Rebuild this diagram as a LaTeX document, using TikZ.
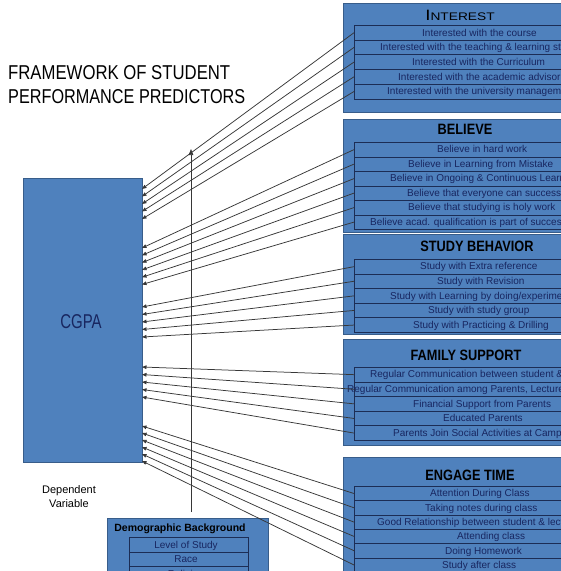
\documentclass[tikz,border=0pt]{standalone}
\usepackage{fontspec}
\setmainfont{Liberation Sans}
\usetikzlibrary{arrows.meta,calc}
\definecolor{boxblue}{RGB}{79,129,189}
\definecolor{boxedge}{RGB}{56,93,138}
\definecolor{rowline}{RGB}{28,45,85}
\definecolor{navy}{RGB}{24,38,96}
\definecolor{conncol}{RGB}{55,55,55}
\begin{document}
\begin{tikzpicture}[x=1pt,y=-1pt,
  bigbox/.style={draw=boxedge, fill=boxblue, line width=0.8pt, anchor=north west, inner sep=0pt},
  cell/.style={draw=rowline, fill=boxblue, line width=0.7pt, anchor=north west, inner sep=0pt, minimum width=300pt},
  rowtext/.style={anchor=base west, inner sep=0pt, text=navy, font=\fontsize{10}{10}\selectfont},
  grouptitle/.style={inner sep=0pt, text=black, font=\bfseries\fontsize{15}{15}\selectfont},
  conn/.style={draw=conncol, line width=0.75pt, -{Triangle[length=4.5pt,width=3.6pt]}},
  plain/.style={inner sep=0pt, text=black}]
\useasboundingbox (0,0) rectangle (561,571);
\clip (0,0) rectangle (561,571);

% title
\node[plain, anchor=south west] (title1) at (8,79.5) {\resizebox{222pt}{14pt}{FRAMEWORK OF STUDENT}};
\node[plain, anchor=south west] (title2) at (8,104) {\resizebox{237pt}{14pt}{PERFORMANCE PREDICTORS}};

% dependent variable
\node[bigbox, draw=boxedge, minimum width=119pt, minimum height=284pt] (cgpa) at (23,178) {};
\node[plain, text=navy] (cgpat) at (81,322) {\scalebox{0.75}[1]{\fontsize{20}{20}\selectfont CGPA}};
\node[plain, align=center, font=\fontsize{11}{14}\selectfont] (dep) at (69,497) {Dependent\\Variable};

% group boxes
\node[bigbox, minimum width=300pt, minimum height=109pt] (interest) at (343,3) {};
\node[bigbox, minimum width=300pt, minimum height=113pt] (believe) at (343,119) {};
\node[bigbox, minimum width=300pt, minimum height=100pt] (study) at (343,234) {};
\node[bigbox, minimum width=300pt, minimum height=106pt] (family) at (343,339) {};
\node[bigbox, minimum width=300pt, minimum height=140pt] (engage) at (343,457) {};

\node[plain] (interestt) at (460,15.5) {\scalebox{1.25}[1]{{\fontsize{15}{15}\selectfont I}{\fontsize{11}{11}\selectfont NTEREST}}};
\node[grouptitle] (believet) at (465,129.5) {\scalebox{0.85}[1]{BELIEVE}};
\node[grouptitle] (studyt) at (477,246) {\scalebox{0.85}[1]{STUDY BEHAVIOR}};
\node[grouptitle] (familyt) at (466,355) {\scalebox{0.85}[1]{FAMILY SUPPORT}};
\node[grouptitle] (engaget) at (470,475) {\scalebox{0.85}[1]{ENGAGE TIME}};

% rows
\foreach \t/\sx [count=\k] in {{Interested with the course}/422,
  {Interested with the teaching \& learning style}/380,
  {Interested with the Curriculum}/412,
  {Interested with the academic advisor}/398,
  {Interested with the university management}/387}{
  \node[cell, minimum height=14.7pt] (i\k) at (354,{25+14.7*(\k-1)}) {};
  \node[rowtext] (it\k) at (\sx,{25+14.7*(\k-1)+11}) {\t};
}
\foreach \t/\sx [count=\k] in {{Believe in hard work}/437,
  {Believe in Learning from Mistake}/408,
  {Believe in Ongoing \& Continuous Learning}/390,
  {Believe that everyone can success}/407,
  {Believe that studying is holy work}/408,
  {Believe acad. qualification is part of success}/370}{
  \node[cell, minimum height=14.5pt] (b\k) at (354,{142+14.5*(\k-1)}) {};
  \node[rowtext] (bt\k) at (\sx,{142+14.5*(\k-1)+10.9}) {\t};
}
\foreach \t/\sx [count=\k] in {{Study with Extra reference}/420,
  {Study with Revision}/437,
  {Study with Learning by doing/experiment}/390,
  {Study with study group}/428,
  {Study with Practicing \& Drilling}/413}{
  \node[cell, minimum height=14.6pt] (s\k) at (354,{259+14.6*(\k-1)}) {};
  \node[rowtext] (st\k) at (\sx,{259+14.6*(\k-1)+10.9}) {\t};
}
\foreach \t/\sx [count=\k] in {{Regular Communication between student \& Parents}/370,
  {Regular Communication among Parents, Lecturers}/347,
  {Financial Support from Parents}/413,
  {Educated Parents}/443,
  {Parents Join Social Activities at Campus}/393}{
  \node[cell, minimum height=14.6pt] (f\k) at (354,{367+14.6*(\k-1)}) {};
  \node[rowtext] (ft\k) at (\sx,{367+14.6*(\k-1)+10.9}) {\t};
}
\foreach \t/\sx [count=\k] in {{Attention During Class}/430,
  {Taking notes during class}/425,
  {Good Relationship between student \& lecturer}/377,
  {Attending class}/457,
  {Doing Homework}/445,
  {Study after class}/442}{
  \node[cell, minimum height=14.3pt] (e\k) at (354,{486+14.3*(\k-1)}) {};
  \node[rowtext] (et\k) at (\sx,{486+14.3*(\k-1)+10.8}) {\t};
}

% demographic box
\node[bigbox, minimum width=161pt, minimum height=80pt] (demo) at (107,518) {};
\node[plain, font=\bfseries\fontsize{10.5}{10.5}\selectfont] (demot) at (180,528.5) {Demographic Background};
\foreach \t [count=\k] in {Level of Study, Race, Religion}{
  \node[cell, minimum width=119pt, minimum height=14.5pt] (d\k) at (129,{537+14.5*(\k-1)}) {};
  \node[plain, text=navy, anchor=base, font=\fontsize{10}{10}\selectfont] (dt\k) at (186,{537+14.5*(\k-1)+11}) {\t};
}

% connectors
\foreach \k/\yy in {1/189,2/196.5,3/204,4/211.5,5/219}{
  \coordinate (ti\k) at (142,\yy);
  \draw[conn] (i\k.west) -- (ti\k);
}
\foreach \k/\yy in {1/248,2/255.3,3/262.6,4/269.9,5/277.2,6/284.5}{
  \coordinate (tb\k) at (142,\yy);
  \draw[conn] (b\k.west) -- (tb\k);
}
\foreach \k/\yy in {1/307,2/314.5,3/322,4/329.5,5/337}{
  \coordinate (ts\k) at (142,\yy);
  \draw[conn] (s\k.west) -- (ts\k);
}
\foreach \k/\yy in {1/367,2/374.5,3/382,4/389.5,5/397}{
  \coordinate (tf\k) at (142,\yy);
  \draw[conn] (f\k.west) -- (tf\k);
}
\foreach \k/\yy in {1/426,2/433,3/440,4/447,5/454,6/461}{
  \coordinate (te\k) at (142,\yy);
  \draw[conn] (e\k.west) -- (te\k);
}

% vertical arrow from demographic background
\coordinate (vtop) at (191,149);
\draw[draw=conncol, line width=0.75pt, -{Triangle[length=6pt,width=4.5pt]}] ($(demo.north -| vtop)+(0,-6)$) -- (vtop);
\end{tikzpicture}
\end{document}
